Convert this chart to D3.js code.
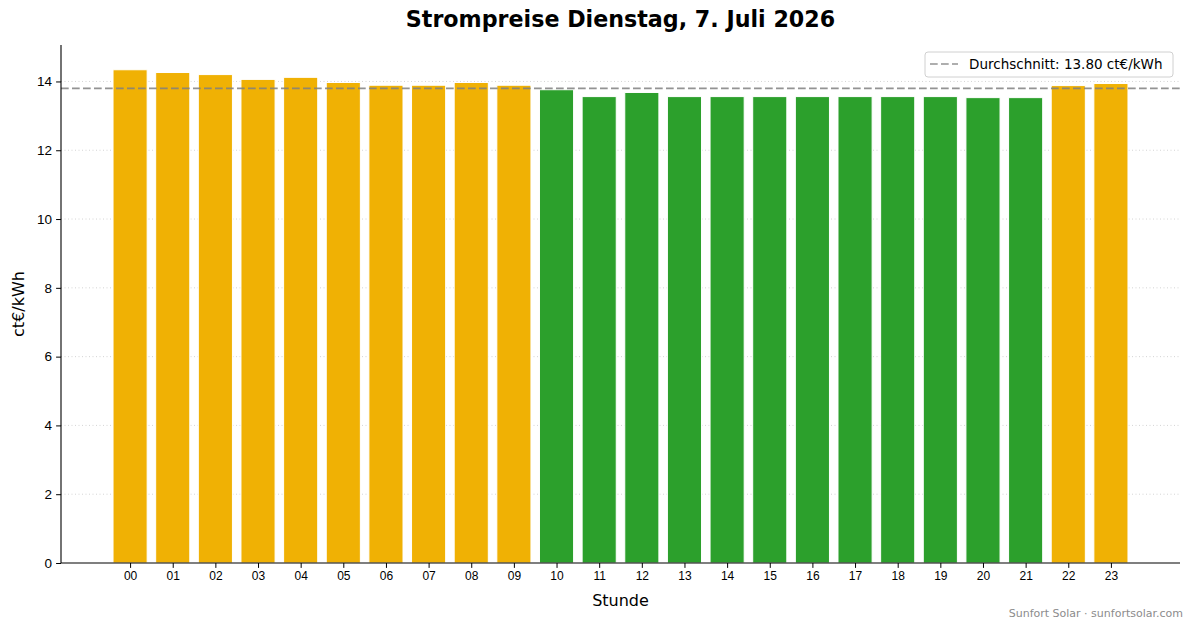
<!DOCTYPE html>
<meta charset="utf-8">
<body style="margin:0;background:#fff">
<div id="chart"></div>
<script src="https://d3js.org/d3.v7.min.js"></script>
<script>
var hours = ["00","01","02","03","04","05","06","07","08","09","10","11",
             "12","13","14","15","16","17","18","19","20","21","22","23"];
var prices = [14.34,14.26,14.20,14.06,14.12,13.97,13.89,13.89,13.97,13.89,13.76,13.56,
              13.68,13.56,13.56,13.56,13.56,13.56,13.56,13.56,13.53,13.53,13.88,13.94];
var average = 13.80;
var yTicks = [0,2,4,6,8,10,12,14];

var width = 1193, height = 628;
var m = {left: 61, right: 13, top: 45, bottom: 65};
var font = "DejaVu Sans, sans-serif";

var svg = d3.select("#chart").append("svg")
    .attr("width", width)
    .attr("height", height)
    .style("font-family", font);

var x = d3.scaleLinear()
    .domain([-1.62, hours.length - 1 + 1.62])
    .range([m.left, width - m.right]);
var y = d3.scaleLinear()
    .domain([0, 15.06])
    .range([height - m.bottom, m.top]);

// grid
svg.append("g").selectAll("line")
  .data(yTicks.slice(1))
  .enter().append("line")
    .attr("x1", m.left).attr("x2", width - m.right)
    .attr("y1", d => y(d)).attr("y2", d => y(d))
    .attr("stroke", "#cfcfcf")
    .attr("stroke-width", 0.9)
    .attr("stroke-dasharray", "1,2.5");

// bars
svg.append("g").selectAll("rect")
  .data(prices)
  .enter().append("rect")
    .attr("x", (d, i) => x(i - 0.4))
    .attr("width", x(0.8) - x(0))
    .attr("y", d => y(d))
    .attr("height", d => y(0) - y(d))
    .attr("fill", d => d > average ? "#f0b104" : "#2ca02c")
    .attr("stroke", "#fff")
    .attr("stroke-width", 1);

// average line
svg.append("line")
    .attr("x1", m.left).attr("x2", width - m.right)
    .attr("y1", y(average)).attr("y2", y(average))
    .attr("stroke", "grey")
    .attr("stroke-opacity", 0.85)
    .attr("stroke-width", 1.6)
    .attr("stroke-dasharray", "7.7,3.3");

// axes
var xAxis = svg.append("g")
    .attr("transform", "translate(0," + y(0) + ")")
    .call(d3.axisBottom(x).tickValues(d3.range(hours.length))
      .tickFormat(i => hours[i]).tickSize(4.9).tickPadding(4).tickSizeOuter(0));
xAxis.selectAll("text").style("font-size", "12px").attr("fill", "#000");

var yAxis = svg.append("g")
    .attr("transform", "translate(" + m.left + ",0)")
    .call(d3.axisLeft(y).tickValues(yTicks).tickSize(4.9).tickPadding(4).tickSizeOuter(0));
yAxis.selectAll("text").style("font-size", "13.5px").attr("fill", "#000");

svg.selectAll(".domain").attr("stroke", "#000").attr("stroke-width", 1.1);
svg.selectAll(".tick line").attr("stroke", "#000").attr("stroke-width", 1);

// extend domains to full axes
xAxis.select(".domain").attr("d", "M" + m.left + ",0H" + (width - m.right));
yAxis.select(".domain").attr("d", "M0," + y(0) + "V" + m.top);

// title and labels
svg.append("text")
    .attr("x", (m.left + width - m.right) / 2)
    .attr("y", 27)
    .attr("text-anchor", "middle")
    .style("font-size", "22.2px")
    .style("font-weight", "bold")
    .text("Strompreise Dienstag, 7. Juli 2026");

svg.append("text")
    .attr("x", (m.left + width - m.right) / 2)
    .attr("y", 606)
    .attr("text-anchor", "middle")
    .style("font-size", "16px")
    .text("Stunde");

svg.append("text")
    .attr("transform", "translate(24," + (y(0) + m.top) / 2 + ") rotate(-90)")
    .attr("text-anchor", "middle")
    .style("font-size", "16px")
    .text("ct€/kWh");

svg.append("text")
    .attr("x", 1183)
    .attr("y", 617)
    .attr("text-anchor", "end")
    .attr("fill", "#8c8c8c")
    .style("font-size", "11px")
    .text("Sunfort Solar · sunfortsolar.com");

// legend
var lg = svg.append("g").attr("transform", "translate(925,52)");
lg.append("rect")
    .attr("width", 248).attr("height", 25).attr("rx", 3)
    .attr("fill", "#fff").attr("fill-opacity", 0.8)
    .attr("stroke", "#d0d0d0");
lg.append("line")
    .attr("x1", 5).attr("x2", 33).attr("y1", 12).attr("y2", 12)
    .attr("stroke", "grey").attr("stroke-opacity", 0.85)
    .attr("stroke-width", 1.6).attr("stroke-dasharray", "7.7,3.3");
lg.append("text")
    .attr("x", 44).attr("y", 17)
    .style("font-size", "13.5px")
    .text("Durchschnitt: " + average.toFixed(2) + " ct€/kWh");
</script>
</body>
